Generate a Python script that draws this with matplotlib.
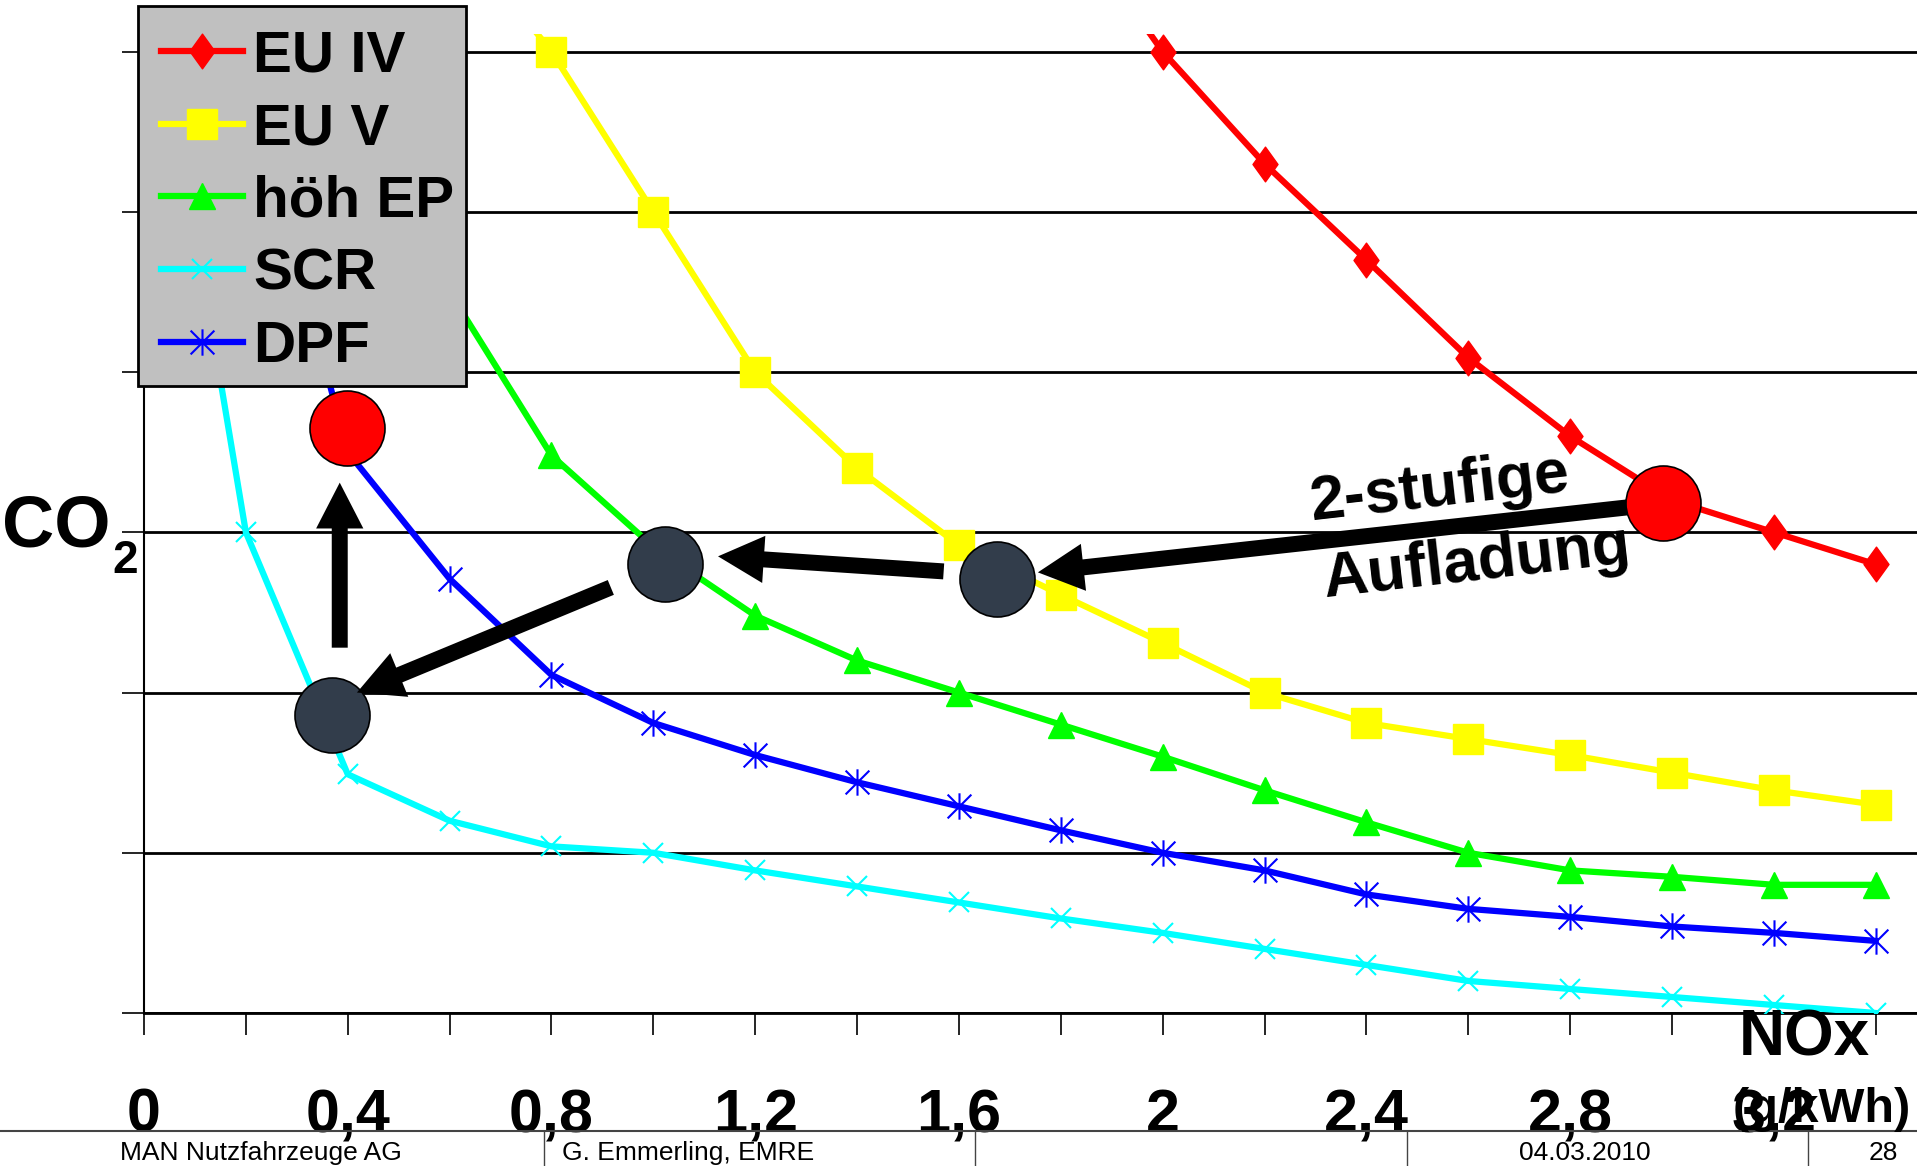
import matplotlib
matplotlib.use("Agg")
import matplotlib.pyplot as plt
from matplotlib.path import Path
from matplotlib.lines import Line2D
from matplotlib.patches import Rectangle

plt.rcParams['font.family'] = ['Liberation Sans', 'DejaVu Sans']

# --- data (NOx in g/kWh, CO2 relative, unlabeled axis) ---
nox_eu4 = [1.8, 2.0, 2.2, 2.4, 2.6, 2.8, 3.0, 3.2, 3.4]
co2_eu4 = [6.9, 6.0, 5.30, 4.70, 4.09, 3.60, 3.20, 3.00, 2.80]

nox_eu5 = [0.6, 0.8, 1.0, 1.2, 1.4, 1.6, 1.8, 2.0, 2.2, 2.4, 2.6, 2.8, 3.0, 3.2, 3.4]
co2_eu5 = [6.8, 6.0, 5.0, 4.0, 3.40, 2.92, 2.61, 2.31, 2.0, 1.81, 1.71, 1.61, 1.50, 1.39, 1.30]

nox_ep = [0.4, 0.6, 0.8, 1.0, 1.2, 1.4, 1.6, 1.8, 2.0, 2.2, 2.4, 2.6, 2.8, 3.0, 3.2, 3.4]
co2_ep = [5.9, 4.5, 3.48, 2.91, 2.48, 2.20, 2.0, 1.80, 1.60, 1.39, 1.19, 1.0, 0.89, 0.85, 0.80, 0.80]

nox_scr = [0.0, 0.2, 0.4, 0.6, 0.8, 1.0, 1.2, 1.4, 1.6, 1.8, 2.0, 2.2, 2.4, 2.6, 2.8, 3.0, 3.2, 3.4]
co2_scr = [6.8, 3.0, 1.49, 1.20, 1.04, 1.0, 0.89, 0.79, 0.69, 0.59, 0.50, 0.40, 0.30, 0.20, 0.15, 0.10, 0.05, 0.0]

nox_dpf = [0.2, 0.4, 0.6, 0.8, 1.0, 1.2, 1.4, 1.6, 1.8, 2.0, 2.2, 2.4, 2.6, 2.8, 3.0, 3.2, 3.4]
co2_dpf = [5.9, 3.5, 2.71, 2.11, 1.81, 1.61, 1.44, 1.29, 1.14, 1.0, 0.89, 0.74, 0.65, 0.60, 0.54, 0.50, 0.45]

# operating points (big circles)
red_pts_x = [0.399, 2.982]
red_pts_y = [3.65, 3.18]
dark_pts_x = [1.023, 1.675, 0.370]
dark_pts_y = [2.80, 2.706, 1.858]

# arrows: (from, to)
arrows = [((2.982, 3.18), (1.755, 2.75)),
          ((1.570, 2.756), (1.127, 2.85)),
          ((0.9165, 2.656), (0.418, 2.00)),
          ((0.3843, 2.28), (0.3843, 3.31))]

xtick_vals = [0.0, 0.2, 0.4, 0.6, 0.8, 1.0, 1.2, 1.4, 1.6, 1.8, 2.0, 2.2, 2.4, 2.6, 2.8, 3.0, 3.2, 3.4]
xtick_labels = ['0', '', '0,4', '', '0,8', '', '1,2', '', '1,6', '', '2', '', '2,4', '', '2,8', '', '3,2', '']

footer = ['MAN Nutzfahrzeuge AG', 'G. Emmerling, EMRE', '04.03.2010', '28']

W, H = 1917, 1166
fig = plt.figure(figsize=(W / 100, H / 100), dpi=100)
ax = fig.add_axes([144 / W, 1 - 1013 / H, 1 - 144 / W, (1013 - 34) / H])
ax.set_xlim(0, 3.481)
ax.set_ylim(0, 6.11)

# markers
diamond = Path([(0, 1), (0.72, 0), (0, -1), (-0.72, 0), (0, 1)],
               [Path.MOVETO, Path.LINETO, Path.LINETO, Path.LINETO, Path.CLOSEPOLY])
aster = Path([(0, -1), (0, 1), (-0.9, -0.9), (0.9, 0.9), (-0.9, 0.9), (0.9, -0.9)],
             [Path.MOVETO, Path.LINETO] * 3)

lw = 4.5
ax.plot(nox_eu4, co2_eu4, color='#FF0000', lw=lw, marker=diamond, ms=25, label='EU IV', zorder=3)
ax.plot(nox_eu5, co2_eu5, color='#FFFF00', lw=lw, marker='s', ms=21, label='EU V', zorder=3)
ax.plot(nox_ep, co2_ep, color='#00FF00', lw=lw, marker='^', ms=19, label='höh EP', zorder=3)
ax.plot(nox_scr, co2_scr, color='#00FFFF', lw=lw, marker='x', ms=14, mew=1.5, label='SCR', zorder=3)
ax.plot(nox_dpf, co2_dpf, color='#0000FF', lw=lw, marker=aster, ms=19, mew=1.5,
        mfc='none', mec='#0000FF', label='DPF', zorder=3)

ax.plot(dark_pts_x, dark_pts_y, ls='none', marker='o', ms=54, mfc='#323D4B', mec='black',
        mew=1.2, zorder=4)
for (x0, y0), (x1, y1) in arrows:
    ax.annotate('', xy=(x1, y1), xytext=(x0, y0),
                arrowprops=dict(arrowstyle='simple,head_length=3.3,head_width=3.4,tail_width=1.15',
                                mutation_scale=10, color='black', lw=0,
                                shrinkA=0, shrinkB=0),
                zorder=5)
ax.plot(red_pts_x, red_pts_y, ls='none', marker='o', ms=54, mfc='#FF0000', mec='black',
        mew=1.2, zorder=6)

ax.text(2.545, 3.27, '2-stufige', fontsize=45, fontweight='bold', rotation=6.5,
        rotation_mode='anchor', ha='center', va='center', zorder=7)
ax.text(2.617, 2.81, 'Aufladung', fontsize=45, fontweight='bold', rotation=6.5,
        rotation_mode='anchor', ha='center', va='center', zorder=7)

# axes styling
for s in ['top', 'right']:
    ax.spines[s].set_visible(False)
ax.spines['left'].set_linewidth(1.5)
ax.spines['bottom'].set_linewidth(2)
ax.set_yticks(range(7))
ax.set_yticklabels([])
ax.yaxis.grid(True, color='black', lw=2)
ax.set_axisbelow(True)
ax.set_xticks(xtick_vals)
ax.set_xticklabels(xtick_labels, fontsize=44, fontweight='bold')
ax.tick_params(axis='both', direction='out', length=16, width=1.2, color='black')
ax.tick_params(axis='x', pad=38)

# legend: grey box drawn separately so its size can match the original
box = Rectangle((138 / W, 1 - 386 / H), 328 / W, 380 / H, transform=fig.transFigure,
                facecolor='#C0C0C0', edgecolor='black', lw=2, clip_on=False, zorder=9)
ax.add_patch(box)
leg = ax.legend(loc='upper left', bbox_to_anchor=(138 / W, 1 - 6 / H),
                bbox_transform=fig.transFigure, borderaxespad=0, frameon=False,
                prop={'weight': 'bold', 'size': 42}, borderpad=0.4, labelspacing=0.32,
                handlelength=1.4, handletextpad=0.17, numpoints=1)
leg.set_zorder(10)

# axis titles
fig.text(2 / W, 1 - 527 / H, 'CO', fontsize=52, fontweight='bold', ha='left', va='center')
fig.text(112 / W, 1 - 561 / H, '2', fontsize=33, fontweight='bold', ha='left', va='center')
fig.text(1804 / W, 1 - 1038 / H, 'NOx', fontsize=46, fontweight='bold', ha='center', va='center')
fig.text(1822 / W, 1 - 1109 / H, '(g/kWh)', fontsize=35, fontweight='bold', ha='center', va='center')

# footer
fig.add_artist(Line2D([0, 1], [1 - 1131 / H] * 2, color='#444444', lw=1.5, transform=fig.transFigure))
for xs in [544, 975, 1407, 1808]:
    fig.add_artist(Line2D([xs / W] * 2, [0, 1 - 1131 / H], color='#444444', lw=1,
                          transform=fig.transFigure))
fig.text(120 / W, 1 - 1160 / H, footer[0], fontsize=19, ha='left', va='baseline')
fig.text(562 / W, 1 - 1160 / H, footer[1], fontsize=19, ha='left', va='baseline')
fig.text(1585 / W, 1 - 1160 / H, footer[2], fontsize=19, ha='center', va='baseline')
fig.text(1883 / W, 1 - 1160 / H, footer[3], fontsize=19, ha='center', va='baseline')

fig.savefig('out.png', dpi=100)
